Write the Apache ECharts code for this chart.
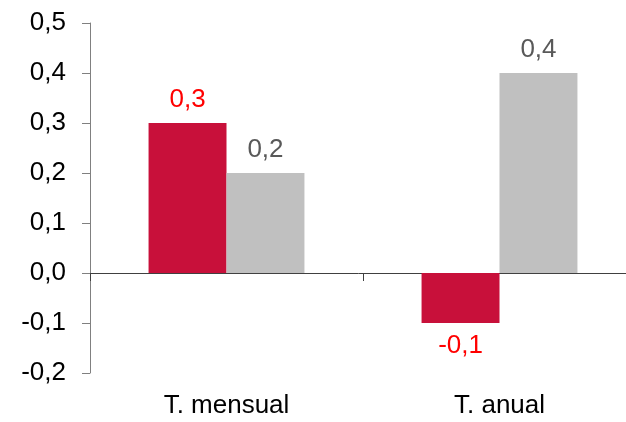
<!DOCTYPE html>
<html><head><meta charset="utf-8">
<script src="https://cdn.jsdelivr.net/npm/echarts@6/dist/echarts.min.js"></script>
<style>html,body{margin:0;padding:0;background:#fff}#c{width:626px;height:422px}</style>
</head><body><div id="c"></div>
<script>
const categories = ['T. mensual', 'T. anual'];
const seriesA = [0.3, -0.1];
const seriesB = [0.2, 0.4];
const fmt = v => v.toFixed(1).replace('.', ',');
const FONT = 'Liberation Sans, Arial, sans-serif';
const FS = 26;
const chart = echarts.init(document.getElementById('c'));
chart.setOption({
  animation: false,
  grid: {left: 90, right: -10, top: 23, bottom: 49, outerBoundsMode: 'none'},
  xAxis: [{
    type: 'category', data: categories,
    axisLine: {onZero: true, lineStyle: {color: '#404040', width: 1}},
    axisTick: {show: true, length: 8, lineStyle: {color: '#404040'}},
    axisLabel: {show: false}
  }, {
    type: 'category', data: categories, position: 'bottom',
    axisLine: {show: false, onZero: false}, axisTick: {show: false},
    axisLabel: {show: true, margin: 20, color: '#000', fontSize: FS, fontFamily: FONT}
  }],
  yAxis: {
    type: 'value', min: -0.2, max: 0.5, interval: 0.1,
    splitLine: {show: false},
    axisLine: {show: true, lineStyle: {color: '#808080'}},
    axisTick: {show: true, length: 8, lineStyle: {color: '#808080'}},
    axisLabel: {margin: 24, color: '#000', fontSize: FS, fontFamily: FONT,
      formatter: v => fmt(v)}
  },
  series: [{
    type: 'bar', data: seriesA.map(v => ({
      value: v,
      label: {position: v < 0 ? 'bottom' : 'top', distance: v < 0 ? 10 : 10}
    })), barGap: '0%', barCategoryGap: '42.9%',
    itemStyle: {color: '#C8103A'},
    label: {show: true, color: '#FF0000', fontSize: FS, fontFamily: FONT,
      formatter: p => fmt(p.value)}
  }, {
    type: 'bar', data: seriesB, barGap: '0%', barCategoryGap: '42.9%',
    itemStyle: {color: '#C0C0C0'},
    label: {show: true, position: 'top', distance: 10, color: '#595959', fontSize: FS,
      fontFamily: FONT, formatter: p => fmt(p.value)}
  }]
});
</script></body></html>
